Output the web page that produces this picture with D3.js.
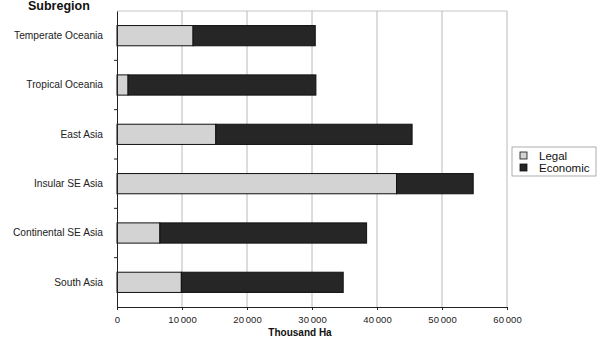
<!DOCTYPE html>
<html><head><meta charset="utf-8">
<script src="https://cdn.jsdelivr.net/npm/d3@7"></script>
<style>body{margin:0;background:#fff;}svg{display:block;font-family:"Liberation Sans",Arial,sans-serif;}</style>
</head><body>
<svg id="c" width="600" height="338"></svg>
<script>
const categories = ["Temperate Oceania","Tropical Oceania","East Asia","Insular SE Asia","Continental SE Asia","South Asia"];
const legal = [11700, 1700, 15200, 43000, 6600, 9900];
const economic = [18800, 28900, 30200, 11800, 31800, 24900];
const seriesNames = ["Legal","Economic"];
const xTicks = [0,10000,20000,30000,40000,50000,60000];
const colors = ["#d3d3d3","#262626"];

const svg = d3.select("#c");
const m = {l:117, r:507, t:11, b:307};
const x = d3.scaleLinear().domain([0,60000]).range([m.l,m.r]);
const y = d3.scaleBand().domain(categories).range([m.t,m.b]).paddingInner(0.59).paddingOuter(0.295);
const yb = d3.scaleBand().domain(categories).range([m.t,m.b]);

// gridlines
svg.append("g").selectAll("line").data(xTicks.slice(1)).join("line")
  .attr("x1",d=>x(d)).attr("x2",d=>x(d)).attr("y1",m.t).attr("y2",m.b)
  .attr("stroke","#a8a8a8").attr("stroke-width",0.8);
svg.append("line").attr("x1",m.l).attr("x2",m.r).attr("y1",m.t).attr("y2",m.t)
  .attr("stroke","#b8b8b8").attr("stroke-width",0.8);

const data = categories.map((c,i)=>({cat:c, Legal:legal[i], Economic:economic[i]}));
const stack = d3.stack().keys(seriesNames)(data);
svg.append("g").selectAll("g").data(stack).join("g").attr("fill",(d,i)=>colors[i])
  .selectAll("rect").data(d=>d).join("rect")
  .attr("x",d=>x(d[0])).attr("width",d=>x(d[1])-x(d[0]))
  .attr("y",d=>y(d.data.cat)).attr("height",y.bandwidth())
  .attr("stroke","#111").attr("stroke-width",1);

// axes
const xa = svg.append("g").attr("transform",`translate(0,${m.b})`)
  .call(d3.axisBottom(x).tickValues(xTicks).tickSize(3).tickPadding(6)
    .tickFormat(d=>d3.format(",")(d).replace(/,/g,"\u2009")));
xa.select(".domain").attr("stroke","#222");
xa.selectAll("line").attr("stroke","#222");
xa.selectAll("text").attr("font-size",9.5).attr("fill","#222").attr("font-family","'Liberation Sans',Arial,sans-serif");

const ya = svg.append("g").attr("transform",`translate(${m.l},0)`)
  .call(d3.axisLeft(yb).tickSize(0).tickPadding(14));
ya.select(".domain").attr("stroke","#222");
ya.selectAll("text").attr("font-size",10.2).attr("fill","#222").attr("font-family","'Liberation Sans',Arial,sans-serif");
// boundary tick marks
svg.append("g").selectAll("line").data(categories.slice(1)).join("line")
  .attr("x1",m.l-3).attr("x2",m.l).attr("y1",d=>yb(d)).attr("y2",d=>yb(d))
  .attr("stroke","#222");

svg.append("text").attr("x",28).attr("y",10).attr("font-weight","bold").attr("font-size",12.5).attr("fill","#111").text("Subregion");
svg.append("text").attr("x",300).attr("y",336).attr("text-anchor","middle").attr("font-weight","bold").attr("font-size",10).attr("fill","#111").text("Thousand Ha");

// legend
const lg = svg.append("g");
lg.append("rect").attr("x",512).attr("y",147).attr("width",84).attr("height",29).attr("fill","#fff").attr("stroke","#999").attr("stroke-width",0.8);
seriesNames.forEach((s,i)=>{
  lg.append("rect").attr("x",520).attr("y",152+i*12).attr("width",7).attr("height",7).attr("fill",colors[i]).attr("stroke","#111").attr("stroke-width",0.8);
  lg.append("text").attr("x",539).attr("y",159.5+i*12).attr("font-size",11.5).attr("fill","#111").text(s);
});
</script>
</body></html>
